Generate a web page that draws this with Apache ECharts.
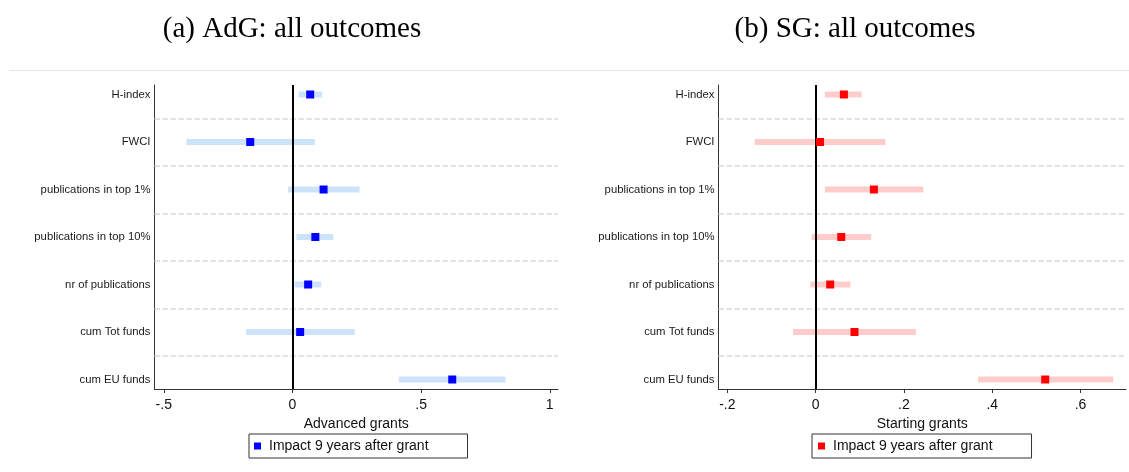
<!DOCTYPE html>
<html>
<head>
<meta charset="utf-8">
<script src="https://cdn.jsdelivr.net/npm/echarts@6/dist/echarts.min.js"></script>
<style>
html,body{margin:0;padding:0;background:#fff;}
#chart{width:1129px;height:472px;}
</style>
</head>
<body>
<div id="chart"></div>
<script>
// ---- data ----
const categories = ["H-index", "FWCI", "publications in top 1%", "publications in top 10%", "nr of publications", "cum Tot funds", "cum EU funds"];

const adgEstimate = [0.069, -0.164, 0.121, 0.089, 0.061, 0.030, 0.621];
const adgLower    = [0.024, -0.412, -0.017, 0.016, 0.008, -0.180, 0.413];
const adgUpper    = [0.116, 0.087, 0.261, 0.159, 0.112, 0.242, 0.828];

const sgEstimate = [0.064, 0.010, 0.132, 0.058, 0.033, 0.088, 0.520];
const sgLower    = [0.021, -0.138, 0.021, -0.009, -0.012, -0.051, 0.368];
const sgUpper    = [0.104, 0.158, 0.244, 0.126, 0.079, 0.227, 0.674];

const adgTicks = [-0.5, 0, 0.5, 1];
const sgTicks  = [-0.2, 0, 0.2, 0.4, 0.6];

const titleA = "(a) AdG: all outcomes";
const titleB = "(b) SG: all outcomes";
const axisNameA = "Advanced grants";
const axisNameB = "Starting grants";
const legendName = "Impact 9 years after grant";

// ---- helpers ----
const rowPos = categories.map((c, i) => i + 1);
const boundaries = rowPos.slice(0, -1).map(v => v + 0.5);
const fmtTick = v => {
  if (v === 0) return "0";
  let s = String(v);
  return s.replace(/^(-?)0\./, "$1.");
};

function ciData(lo, hi) { return lo.map((l, i) => [l, hi[i], rowPos[i]]); }
function ptData(est) { return est.map((e, i) => [e, rowPos[i]]); }

function ciSeries(idx, lo, hi, color) {
  return {
    type: 'custom',
    xAxisIndex: idx, yAxisIndex: idx,
    silent: true,
    z: 2,
    encode: { x: [0, 1], y: 2 },
    data: ciData(lo, hi),
    renderItem: function (params, api) {
      const y = api.value(2);
      const p1 = api.coord([api.value(0), y]);
      const p2 = api.coord([api.value(1), y]);
      const h = 6;
      return {
        type: 'rect',
        shape: { x: p1[0], y: p1[1] - h / 2, width: p2[0] - p1[0], height: h },
        style: { fill: color }
      };
    },
    markLine: {
      silent: true,
      symbol: 'none',
      label: { show: false },
      animation: false,
      data: boundaries.map(b => ({ yAxis: b, lineStyle: { color: '#d9d9d9', width: 1.5, type: [5.5, 2.5] } }))
        .concat([{ xAxis: 0, lineStyle: { color: '#000', width: 2, type: 'solid' } }])
    }
  };
}

function ptSeries(idx, est, color) {
  return {
    type: 'scatter',
    name: legendName,
    xAxisIndex: idx, yAxisIndex: idx,
    symbol: 'rect',
    symbolSize: 8,
    z: 10,
    itemStyle: { color: color, opacity: 1 },
    data: ptData(est)
  };
}

function xAxisCfg(idx, min, max, ticks, name) {
  return {
    type: 'value', gridIndex: idx, min: min, max: max,
    name: name, nameLocation: 'middle', nameGap: 23,
    nameTextStyle: { fontFamily: 'Liberation Sans', fontSize: 14, color: '#111' },
    axisLine: { show: true, onZero: false, lineStyle: { color: '#333', width: 1 } },
    axisTick: { show: true, inside: false, length: 4, customValues: ticks, lineStyle: { color: '#333' } },
    axisLabel: { customValues: ticks, margin: 9, formatter: fmtTick, fontFamily: 'Liberation Sans', fontSize: 14, color: '#111' },
    splitLine: { show: false }
  };
}

function yAxisCfg(idx) {
  return {
    type: 'value', gridIndex: idx, inverse: true, min: 0.8, max: 7.2,
    axisLine: { show: true, onZero: false, lineStyle: { color: '#333', width: 1 } },
    axisTick: { show: false },
    axisLabel: {
      customValues: rowPos, margin: 4,
      formatter: v => categories[Math.round(v) - 1] || '',
      fontFamily: 'Liberation Sans', fontSize: 11.3, color: '#1a1a1a'
    },
    splitLine: { show: false }
  };
}

const chart = echarts.init(document.getElementById('chart'), null, { renderer: 'canvas' });
chart.setOption({
  animation: false,
  backgroundColor: '#fff',
  grid: [
    { left: 154.5, right: 571, top: 85, bottom: 83 },
    { left: 718.5, right: 3, top: 85, bottom: 83 }
  ],
  xAxis: [
    xAxisCfg(0, -0.536, 1.032, adgTicks, axisNameA),
    xAxisCfg(1, -0.220, 0.703, sgTicks, axisNameB)
  ],
  yAxis: [yAxisCfg(0), yAxisCfg(1)],
  legend: [
    {
      left: 249, top: 434,
      orient: 'horizontal',
      padding: [5, 39, 5, 5],
      borderColor: '#333', borderWidth: 1,
      itemWidth: 7, itemHeight: 7,
      textStyle: { fontFamily: 'Liberation Sans', fontSize: 14, color: '#111', padding: [0, 0, 0, 3] },
      selectedMode: false,
      data: [{ name: legendName, icon: 'rect', itemStyle: { color: '#0000ff' } }]
    },
    {
      left: 812, top: 434,
      orient: 'horizontal',
      padding: [5, 39, 5, 6],
      borderColor: '#333', borderWidth: 1,
      itemWidth: 7, itemHeight: 7,
      textStyle: { fontFamily: 'Liberation Sans', fontSize: 14, color: '#111', padding: [0, 0, 0, 3] },
      selectedMode: false,
      data: [{ name: legendName, icon: 'rect', itemStyle: { color: '#ff0000' } }]
    }
  ],
  graphic: [
    { type: 'line', silent: true, shape: { x1: 9, y1: 70.5, x2: 1129, y2: 70.5 }, style: { stroke: '#e4e4e4', lineWidth: 1 } },
    { type: 'text', silent: true, x: 292, y: 29, style: { text: titleA, font: '29px "Liberation Serif"', fill: '#000', textAlign: 'center', textVerticalAlign: 'middle' } },
    { type: 'text', silent: true, x: 855, y: 29, style: { text: titleB, font: '29px "Liberation Serif"', fill: '#000', textAlign: 'center', textVerticalAlign: 'middle' } }
  ],
  series: [
    ciSeries(0, adgLower, adgUpper, '#cce3fb'),
    ptSeries(0, adgEstimate, '#0000ff'),
    ciSeries(1, sgLower, sgUpper, '#ffcccc'),
    ptSeries(1, sgEstimate, '#ff0000')
  ]
});
</script>
</body>
</html>
